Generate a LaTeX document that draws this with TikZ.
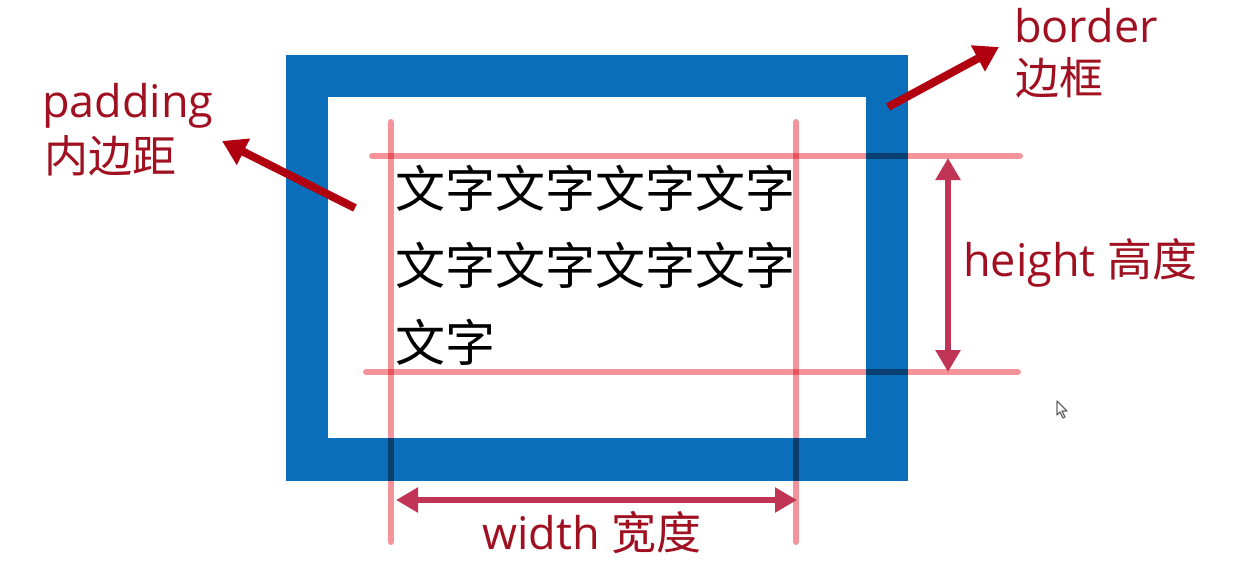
\documentclass[tikz,border=0pt]{standalone}
\usepackage{fontspec}
\setmainfont{Open Sans}
\newfontfamily\cjk{Noto Sans CJK SC}
\usetikzlibrary{arrows.meta}
\definecolor{boxblue}{RGB}{11,110,186}
\definecolor{guidepink}{RGB}{244,148,154}
\definecolor{labelred}{RGB}{160,16,32}
\definecolor{pointred}{RGB}{176,0,16}
\definecolor{dimred}{RGB}{192,52,86}
\tikzset{
  label/.style={text=labelred,font=\fontsize{45}{45}\selectfont,inner sep=0pt,anchor=base west},
  content/.style={text=black,font=\cjk\fontsize{50}{50}\selectfont,inner sep=0pt,anchor=base west},
  guide/.style={draw=guidepink,line width=6pt,line cap=round},
  pointer/.style={draw=pointred,line width=8pt,-{Triangle[width=28pt,length=24pt]}},
  dimarrow/.style={draw=dimred,line width=6pt,{Triangle[width=24pt,length=22pt]}-{Triangle[width=24pt,length=22pt]}}
}
\begin{document}
\begin{tikzpicture}[x=1pt,y=-1pt]
\useasboundingbox (0,0) rectangle (1252,574);
% border box
\fill[boxblue] (286,55) rectangle (908,481);
\fill[white] (328,97) rectangle (866,438);
% content text
\node[content] (t1) at (395,207) {文字文字文字文字};
\node[content] (t2) at (395,284) {文字文字文字文字};
\node[content] (t3) at (395,361) {文字};
% guide lines
\coordinate (ha) at (372,156); \coordinate (hb) at (1020,156);
\coordinate (hc) at (366,372); \coordinate (hd) at (1018,372);
\coordinate (va) at (391,122); \coordinate (vb) at (391,542);
\coordinate (vc) at (796,122); \coordinate (vd) at (796,542);
\begin{scope}[blend mode=multiply]
\draw[guide] (ha) -- (hb);
\draw[guide] (hc) -- (hd);
\draw[guide] (va) -- (vb);
\draw[guide] (vc) -- (vd);
\end{scope}
% labels
\node[label] (pad) at (42,117) {padding};
\node[label,font=\cjk\fontsize{44}{44}\selectfont] (padcn) at (44,172) {内边距};
\node[label] (bor) at (1014,42) {border};
\node[label,font=\cjk\fontsize{44}{44}\selectfont] (borcn) at (1015,94) {边框};
\node[label] (hei) at (963,276) {height \cjk 高度};
\node[label] (wid) at (482,549) {width \cjk 宽度};
% pointer arrows
\coordinate (ps) at (355,208); \coordinate (pt) at (222,141);
\coordinate (bs) at (888,107); \coordinate (bt) at (999,47);
\draw[pointer] (ps) -- (pt);
\draw[pointer] (bs) -- (bt);
% dimension arrows
\coordinate (h1) at (948,158); \coordinate (h2) at (948,372);
\coordinate (w1) at (396,500); \coordinate (w2) at (797,500);
\draw[dimarrow] (h1) -- (h2);
\draw[dimarrow] (w1) -- (w2);
% mouse cursor
\draw[gray!80!black,line width=1.2pt,fill=white,line join=round]
  (1057,401) -- (1057,415) -- (1060,412) -- (1063,418) -- (1065,417) -- (1062,411) -- (1067,411) -- cycle;
\end{tikzpicture}
\end{document}
